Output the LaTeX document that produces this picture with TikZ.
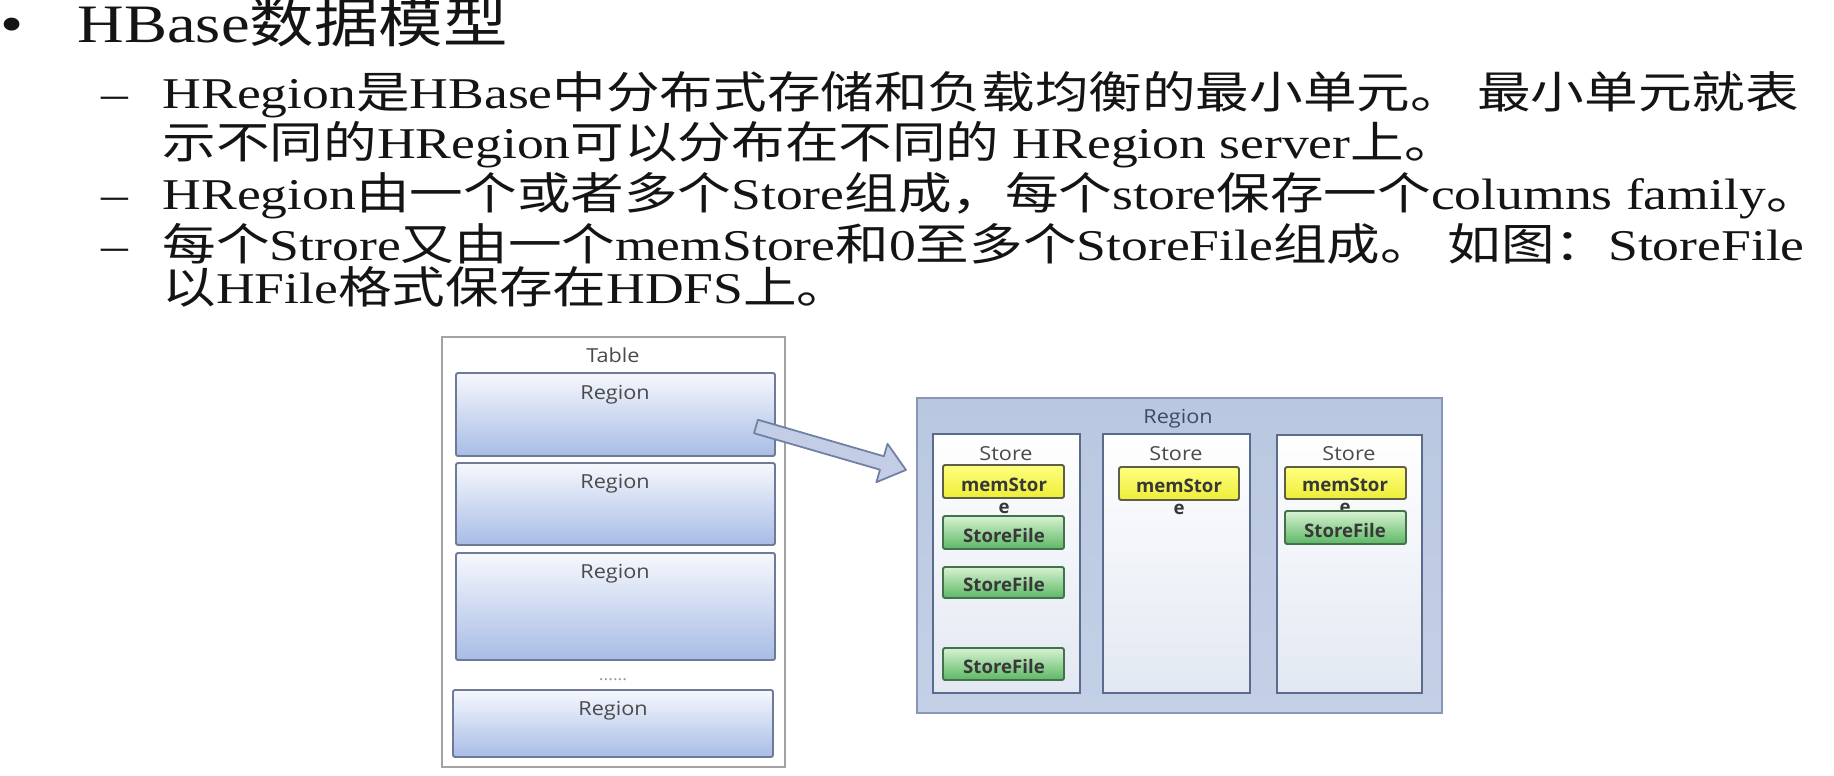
\documentclass[tikz,border=0pt]{standalone}
\usepackage{fontspec}
\usepackage{graphicx}
\setmainfont{Liberation Serif}
\newfontfamily\cjkfont{Noto Sans CJK SC}
\newfontfamily\dfont{Open Sans}
\usetikzlibrary{calc,fit}

% automatic switch to the CJK font for CJK characters
\chardef\cjkcls=11
\makeatletter
\count@=32 \loop\XeTeXcharclass\count@=0 \advance\count@\@ne\ifnum\count@<127 \repeat
\XeTeXcharclass"2013=0 \XeTeXcharclass"2022=0
\count@="3000 \loop\XeTeXcharclass\count@=\cjkcls\advance\count@\@ne\ifnum\count@<"3040 \repeat
\count@="4E00 \loop\XeTeXcharclass\count@=\cjkcls\advance\count@\@ne\ifnum\count@<"A000 \repeat
\count@="FF00 \loop\XeTeXcharclass\count@=\cjkcls\advance\count@\@ne\ifnum\count@<"FFF0 \repeat
\makeatother
\XeTeXinterchartoks 0 \cjkcls = {\cjkfont}
\XeTeXinterchartoks 4095 \cjkcls = {\cjkfont}
\XeTeXinterchartoks \cjkcls 0 = {\rmfamily}
\XeTeXinterchartoks \cjkcls 4095 = {\rmfamily}
\newcommand\cjkon{\XeTeXinterchartokenstate=1\relax}

\newcommand\sx[1]{\scalebox{1.22}[1]{#1}}
\newcommand\sxd[1]{\scalebox{1.12}[1]{#1}}

\definecolor{txt}{HTML}{141414}
\definecolor{tborder}{HTML}{A3A3A3}
\definecolor{regtop}{HTML}{F6F8FD}
\definecolor{regbot}{HTML}{A8BCE6}
\definecolor{regborder}{HTML}{6E7B96}
\definecolor{outertop}{HTML}{B9C7E0}
\definecolor{outerbot}{HTML}{C4D0E6}
\definecolor{outerborder}{HTML}{8797B5}
\definecolor{storetop}{HTML}{FFFFFF}
\definecolor{storebot}{HTML}{E2E8F2}
\definecolor{storeborder}{HTML}{5B6B8C}
\definecolor{memtop}{HTML}{FFFF80}
\definecolor{membot}{HTML}{EDED38}
\definecolor{memborder}{HTML}{5F5F45}
\definecolor{sftop}{HTML}{D8F2D2}
\definecolor{sfbot}{HTML}{5CB865}
\definecolor{sfborder}{HTML}{44704B}
\definecolor{arrowfill}{HTML}{C3CEE6}
\definecolor{arrowborder}{HTML}{7080A3}
\definecolor{dtext}{HTML}{4A4A4A}
\definecolor{rtext}{HTML}{3C4B6C}

\begin{document}
\begin{tikzpicture}[x=0.1mm,y=-0.1mm,
  body/.style={inner sep=0pt, anchor=base west, text=txt, font=\fontsize{12.5}{15}\selectfont\cjkon},
  titletext/.style={inner sep=0pt, anchor=base west, text=txt, font=\fontsize{15.4}{18}\selectfont\cjkon},
  dlabel/.style={inner sep=0pt, anchor=base, text=dtext, font=\fontsize{5.5}{6.6}\dfont},
  blabel/.style={inner sep=0pt, anchor=base, text=black!78, font=\fontsize{5.3}{6.4}\dfont\bfseries},
  tablebox/.style={draw=tborder, line width=0.5pt, fill=white, inner sep=0pt},
  regbox/.style={draw=regborder, line width=0.55pt, top color=regtop, bottom color=regbot, rounded corners=0.6pt, inner sep=0pt},
  outerbox/.style={draw=outerborder, line width=0.6pt, top color=outertop, bottom color=outerbot, inner sep=0pt},
  storebox/.style={draw=storeborder, line width=0.55pt, top color=storetop, bottom color=storebot, inner sep=0pt},
  membox/.style={draw=memborder, line width=0.55pt, top color=memtop, bottom color=membot, rounded corners=0.6pt, inner sep=0pt},
  sfbox/.style={draw=sfborder, line width=0.55pt, top color=sftop, bottom color=sfbot, rounded corners=0.6pt, inner sep=0pt},
  bigarrow/.style={draw=arrowborder, line width=0.5pt, fill=arrowfill, line join=round}
]
\useasboundingbox (0,0) rectangle (1834,776);
\fill[white] (0,0) rectangle (1834,776);

% ---------- text ----------
\node[titletext, anchor=base] (bul) at (12,43) {\sx{•}};
\node[titletext] (title) at (77,43) {\resizebox{43mm}{\height}{HBase数据模型}};

\node[body] (d1) at (101,109) {\sx{–}};
\node[body] (l1) at (162,109) {\sx{HRegion是HBase中分布式存储和负载均衡的最小单元。 最小单元就表}};
\node[body] (l2) at (162,159) {\sx{示不同的HRegion可以分布在不同的 HRegion server上。}};
\node[body] (d3) at (101,210) {\sx{–}};
\node[body] (l3) at (162,210) {\sx{HRegion由一个或者多个Store组成，每个store保存一个columns family。}};
\node[body] (d4) at (101,260) {\sx{–}};
\node[body] (l4) at (162,260) {\sx{每个Strore又由一个memStore和0至多个StoreFile组成。 如图：StoreFile}};
\node[body] (l5) at (162,304) {\sx{以HFile格式保存在HDFS上。}};

% ---------- table ----------
\node[tablebox, fit={(442,337) (785,767)}] (table) {};
\node[dlabel] (tablel) at (613,362) {\sxd{Table}};
\node[regbox, fit={(456,373) (775,456)}] (r1) {};
\node[regbox, fit={(456,463) (775,545)}] (r2) {};
\node[regbox, fit={(456,553) (775,660)}] (r3) {};
\node[regbox, fit={(453,690) (773,757)}] (r4) {};
\node[dlabel] (r1l) at (615,399) {\sxd{Region}};
\node[dlabel] (r2l) at (615,488) {\sxd{Region}};
\node[dlabel] (r3l) at (615,578) {\sxd{Region}};
\node[dlabel] (r4l) at (613,715) {\sxd{Region}};
\node[dlabel, text=gray!80, anchor=center, font=\fontsize{4.5}{5}\dfont] (dots) at (613,680) {\sxd{......}};

% ---------- region detail ----------
\node[outerbox, fit={(917,398) (1442,713)}] (rg) {};
\node[dlabel, text=rtext] (rgl) at (1178,423) {\sxd{Region}};

\node[storebox, fit={(933,434) (1080,693)}] (s1) {};
\node[storebox, fit={(1103,434) (1250,693)}] (s2) {};
\node[storebox, fit={(1277,435) (1422,693)}] (s3) {};
\node[dlabel] (s1l) at (1006,460) {\sxd{Store}};
\node[dlabel] (s2l) at (1176,460) {\sxd{Store}};
\node[dlabel] (s3l) at (1349,460) {\sxd{Store}};

\node[membox, fit={(943,465) (1064,498)}] (m1) {};
\node[membox, fit={(1119,467) (1239,500)}] (m2) {};
\node[membox, fit={(1285,467) (1406,499)}] (m3) {};
\node[blabel] (m1l) at (1004,491) {memStor};
\node[blabel] (m2l) at (1179,492) {memStor};
\node[blabel] (m3l) at (1345,491) {memStor};
\node[blabel] (m1e) at (1004,513) {e};
\node[blabel] (m2e) at (1179,514) {e};
\node[blabel] (m3e) at (1345,513) {e};

\node[sfbox, fit={(943,516) (1064,549)}] (f1) {};
\node[sfbox, fit={(943,567) (1064,598)}] (f2) {};
\node[sfbox, fit={(943,648) (1064,680)}] (f3) {};
\node[sfbox, fit={(1285,511) (1406,544)}] (f4) {};
\node[blabel] (f1l) at (1004,542) {StoreFile};
\node[blabel] (f2l) at (1004,591) {StoreFile};
\node[blabel] (f3l) at (1004,673) {StoreFile};
\node[blabel] (f4l) at (1345,537) {StoreFile};

% ---------- arrow from table region to region detail ----------
\coordinate (arT) at ($(r1.east)+(-20,12)$);
\coordinate (arH) at ($(rg.north west)+(-10,73)$);
\coordinate (arN) at ($(arH)!2.5mm!(arT)$);
\draw[bigarrow] ($(arT)!0.7mm!90:(arH)$) -- ($(arN)!0.7mm!90:(arH)$) -- ($(arN)!2mm!90:(arH)$)
  -- (arH) -- ($(arN)!2mm!-90:(arH)$) -- ($(arN)!0.7mm!-90:(arH)$) -- ($(arT)!0.7mm!-90:(arH)$) -- cycle;
\end{tikzpicture}
\end{document}
